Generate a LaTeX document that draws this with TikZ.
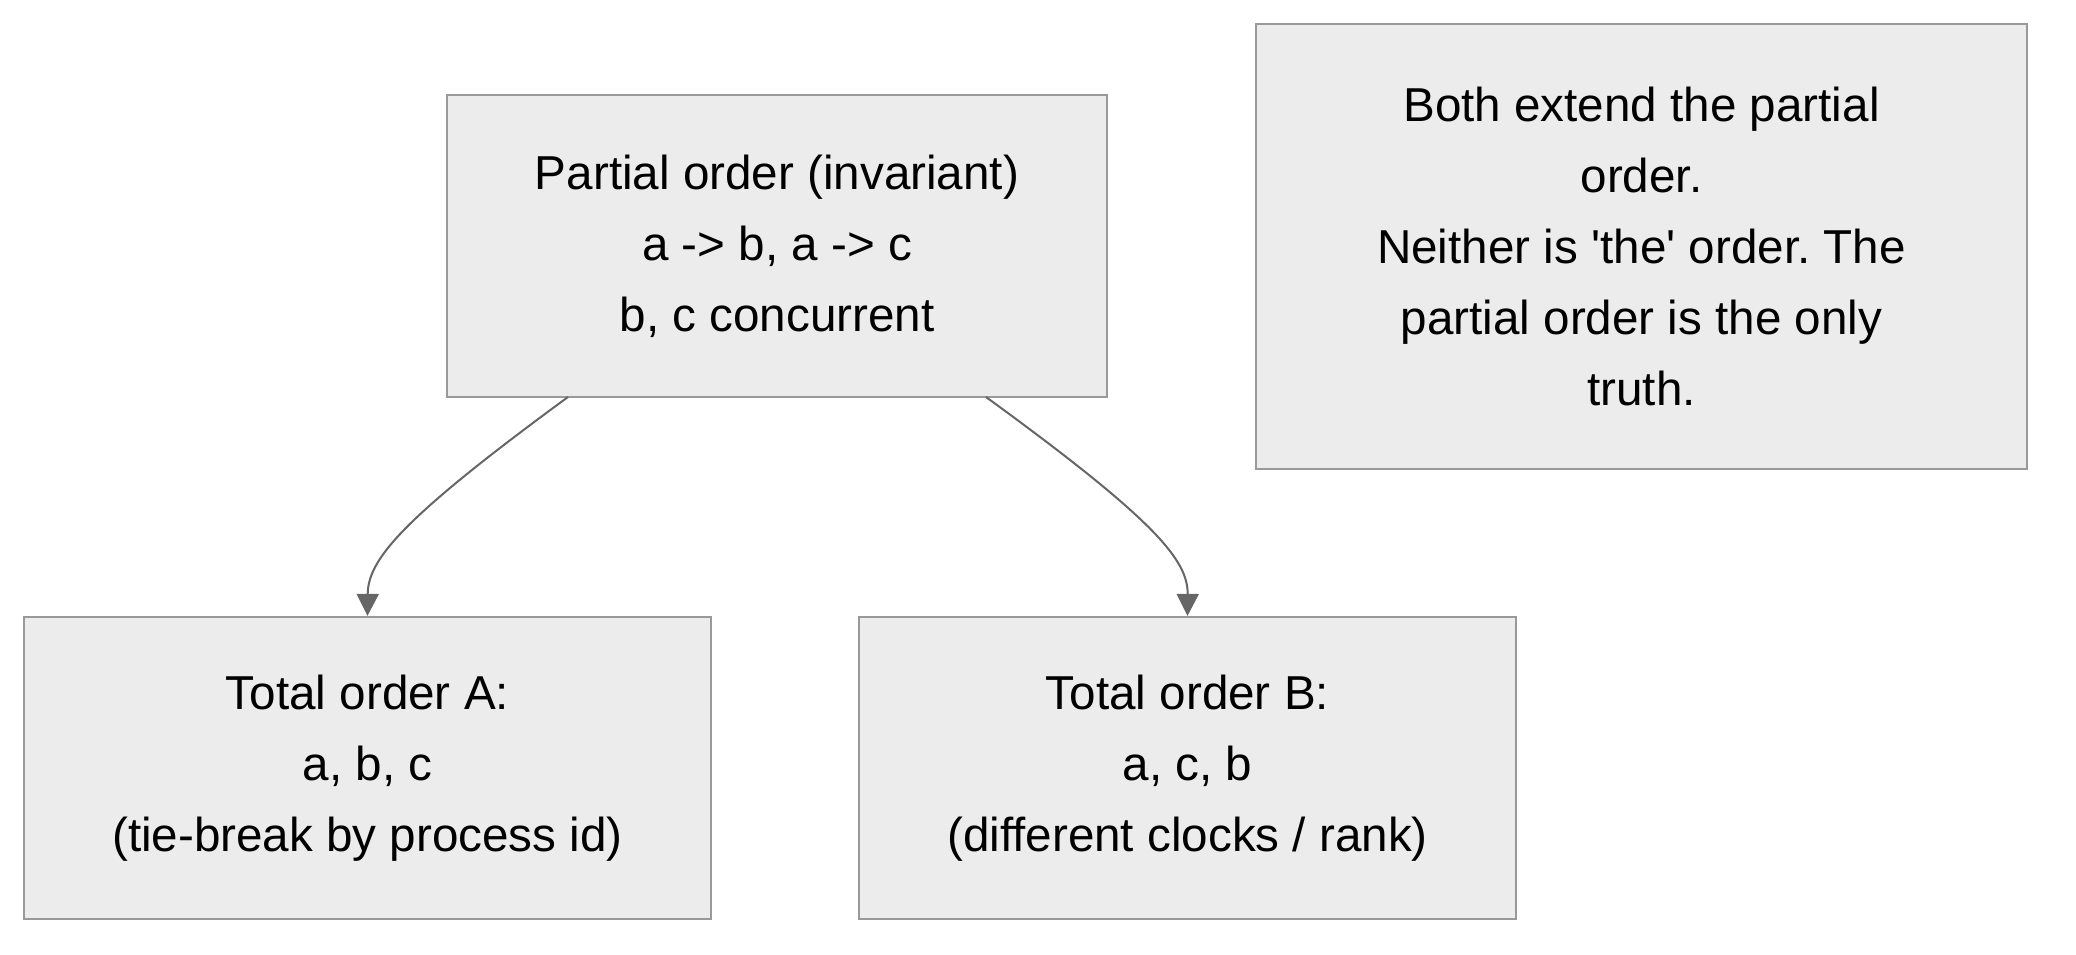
\documentclass[tikz,border=0pt]{standalone}
\usepackage{fontspec}
\setmainfont{Liberation Sans}[Ligatures=TeXOff]
\usetikzlibrary{arrows.meta}
\definecolor{boxfill}{HTML}{ECECEC}
\definecolor{boxline}{HTML}{999999}
\definecolor{arrowcol}{HTML}{666666}
\tikzset{
  box/.style={draw=boxline, fill=boxfill, line width=1.1pt, inner sep=0pt, align=center,
    font=\fontsize{23.8}{35.6}\selectfont\frenchspacing, text=black},
  conn/.style={draw=arrowcol, line width=1pt, -{Triangle[length=11pt,width=11pt]}}
}
\begin{document}
\begin{tikzpicture}[x=0.5pt,y=-0.5pt]
\useasboundingbox (0,0) rectangle (2076,954);
\node[box, minimum width=330pt, minimum height=151pt] (po) at (777,246)
  {Partial order (invariant)\\a -> b, a -> c\\b, c concurrent};
\node[box, minimum width=385.5pt, minimum height=222.5pt] (note) at (1641.5,246.5)
  {Both extend the partial\\order.\\Neither is 'the' order. The\\partial order is the only\\truth.};
\node[box, minimum width=343.5pt, minimum height=151pt] (ta) at (367.5,768)
  {Total order A:\\a, b, c\\(tie-break by process id)};
\node[box, minimum width=328.5pt, minimum height=151pt] (tb) at (1187.5,768)
  {Total order B:\\a, c, b\\(different clocks / rank)};
\coordinate (s1) at (568,397);
\coordinate (s2) at (986,397);
\draw[conn] (s1) .. controls (400,520) and (368,560) .. (ta.north);
\draw[conn] (s2) .. controls (1155,520) and (1188,560) .. (tb.north);
\end{tikzpicture}
\end{document}
